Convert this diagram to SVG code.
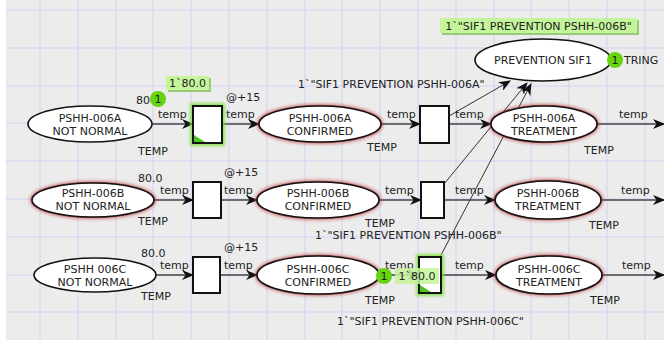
<svg xmlns="http://www.w3.org/2000/svg" width="664" height="340" viewBox="0 0 664 340">
  <defs>
    <style>
      text { font-family: "DejaVu Sans", Verdana, sans-serif; font-size: 11px; fill: #222; }
      .mid { text-anchor: middle; }
      .place { fill: #fff; stroke: #111; stroke-width: 1.6; }
      .halo { fill: none; stroke: #c03838; stroke-width: 5; opacity: 0.5; filter: url(#soft); }
      .halo2 { fill: none; stroke: #9a2828; stroke-width: 2.6; opacity: 0.45; }
      .trans { fill: #fff; stroke: #111; stroke-width: 2; }
      .thalo { fill: none; stroke: #7fe040; stroke-width: 6; opacity: 0.85; filter: url(#soft); }
      .corner { fill: #4cc51a; }
      .arc { fill: none; stroke: #444; stroke-width: 1.4; marker-end: url(#head); }
      .diag { fill: none; stroke: #333; stroke-width: 1; marker-end: url(#head); }
      .token { fill: #66d40e; }
      .tag { fill: #c4f59a; }
      .tagshadow { fill: #9cc87a; }
      .grid { stroke: #d2d2f6; stroke-width: 1; fill: none; }
    </style>
    <filter id="soft" x="-20%" y="-30%" width="140%" height="160%">
      <feGaussianBlur stdDeviation="1.4"/>
    </filter>
    <marker id="head" viewBox="0 0 12 10" refX="11" refY="5" markerWidth="12" markerHeight="10" markerUnits="userSpaceOnUse" orient="auto">
      <path d="M0,0 L12,5 L0,10 L3.5,5 Z" fill="#111"/>
    </marker>
  </defs>

  <!-- canvas and grid -->
  <rect x="0" y="0" width="664" height="340" fill="#fff"/>
  <rect x="6" y="0" width="658" height="340" fill="#ececec"/>
  <path class="grid" d="M40,0V340 M78,0V340 M116,0V340 M153,0V340 M191,0V340 M229,0V340 M267,0V340 M305,0V340 M342,0V340 M380,0V340 M418,0V340 M456,0V340 M494,0V340 M531,0V340 M569,0V340 M607,0V340 M645,0V340 M6,10H664 M6,48H664 M6,86H664 M6,123H664 M6,161H664 M6,199H664 M6,237H664 M6,275H664 M6,312H664"/>

  <!-- connectors -->
  <g id="arcs">
    <path class="arc" d="M152,124H193"/>
    <path class="arc" d="M222,124H259"/>
    <path class="arc" d="M381,124H420"/>
    <path class="arc" d="M449,124H491"/>
    <path class="arc" d="M597,124H664"/>
    <path class="arc" d="M154,200H193"/>
    <path class="arc" d="M221,200H257"/>
    <path class="arc" d="M379,200H421"/>
    <path class="arc" d="M444,200H495"/>
    <path class="arc" d="M602,200H664"/>
    <path class="arc" d="M156,275H193"/>
    <path class="arc" d="M220,275H257"/>
    <path class="arc" d="M379,275H419"/>
    <path class="arc" d="M441,275H496"/>
    <path class="arc" d="M602,275H664"/>
    <path class="diag" d="M449,116L510,81"/>
    <path class="diag" d="M444,184L527,83"/>
    <path class="diag" d="M440,257L531,84"/>
    <text x="158" y="118">temp</text>
    <text x="226" y="118">temp</text>
    <text x="226" y="101">@+15</text>
    <text x="387" y="118">temp</text>
    <text x="455" y="118">temp</text>
    <text x="619" y="118">temp</text>
    <text x="298" y="88">1`"SIF1 PREVENTION PSHH-006A"</text>
    <text x="160" y="194">temp</text>
    <text x="224" y="194">temp</text>
    <text x="224" y="176">@+15</text>
    <text x="385" y="194">temp</text>
    <text x="455" y="194">temp</text>
    <text x="621" y="194">temp</text>
    <text x="315" y="239">1`"SIF1 PREVENTION PSHH-006B"</text>
    <text x="160" y="269">temp</text>
    <text x="224" y="269">temp</text>
    <text x="224" y="251">@+15</text>
    <text x="385" y="269">temp</text>
    <text x="455" y="269">temp</text>
    <text x="622" y="269">temp</text>
    <text x="337" y="325">1`"SIF1 PREVENTION PSHH-006C"</text>
  </g>

  <!-- places -->
  <g id="p-006a-not-normal">
    <ellipse class="place" cx="90" cy="124" rx="62" ry="18"/>
    <text class="mid" x="90" y="122">PSHH-006A</text>
    <text class="mid" x="90" y="135">NOT NORMAL</text>
    <text x="138" y="155">TEMP</text>
    <text x="136" y="104">80</text>
    <circle class="token" cx="158" cy="99" r="8"/>
    <text class="mid" x="158" y="103">1</text>
    <rect class="tagshadow" x="168" y="78" width="43" height="14"/>
    <rect class="tag" x="166" y="76" width="43" height="14"/>
    <text class="mid" x="187.5" y="87">1`80.0</text>
  </g>
  <g id="p-006a-confirmed">
    <ellipse class="halo" cx="320" cy="124" rx="61" ry="18"/>
    <ellipse class="halo2" cx="320" cy="124" rx="61" ry="18"/>
    <ellipse class="place" cx="320" cy="124" rx="61" ry="18"/>
    <text class="mid" x="320" y="122">PSHH-006A</text>
    <text class="mid" x="320" y="135">CONFIRMED</text>
    <text x="367" y="151">TEMP</text>
  </g>
  <g id="p-006a-treatment">
    <ellipse class="halo" cx="544" cy="124" rx="53" ry="18"/>
    <ellipse class="halo2" cx="544" cy="124" rx="53" ry="18"/>
    <ellipse class="place" cx="544" cy="124" rx="53" ry="18"/>
    <text class="mid" x="544" y="122">PSHH-006A</text>
    <text class="mid" x="544" y="135">TREATMENT</text>
    <text x="584" y="154">TEMP</text>
  </g>
  <g id="p-prevention-sif1">
    <ellipse class="place" cx="543" cy="60" rx="68" ry="21"/>
    <text class="mid" x="543" y="64">PREVENTION SIF1</text>
    <text x="624" y="64">TRING</text>
    <circle class="token" cx="615" cy="60" r="8"/>
    <text class="mid" x="615" y="64">1</text>
    <rect class="tagshadow" x="442" y="20" width="197" height="15"/>
    <rect class="tag" x="440" y="18" width="197" height="15"/>
    <text class="mid" x="538.5" y="29.5">1`"SIF1 PREVENTION PSHH-006B"</text>
  </g>

  <g id="p-006b-not-normal">
    <ellipse class="halo" cx="93" cy="200" rx="61" ry="17"/>
    <ellipse class="halo2" cx="93" cy="200" rx="61" ry="17"/>
    <ellipse class="place" cx="93" cy="200" rx="61" ry="17"/>
    <text class="mid" x="93" y="197">PSHH-006B</text>
    <text class="mid" x="93" y="210">NOT NORMAL</text>
    <text x="138" y="225">TEMP</text>
    <text x="138" y="182">80.0</text>
  </g>
  <g id="p-006b-confirmed">
    <ellipse class="halo" cx="318" cy="200" rx="61" ry="18"/>
    <ellipse class="halo2" cx="318" cy="200" rx="61" ry="18"/>
    <ellipse class="place" cx="318" cy="200" rx="61" ry="18"/>
    <text class="mid" x="318" y="197">PSHH-006B</text>
    <text class="mid" x="318" y="210">CONFIRMED</text>
    <text x="365" y="227">TEMP</text>
  </g>
  <g id="p-006b-treatment">
    <ellipse class="halo" cx="548" cy="200" rx="53" ry="19"/>
    <ellipse class="halo2" cx="548" cy="200" rx="53" ry="19"/>
    <ellipse class="place" cx="548" cy="200" rx="53" ry="19"/>
    <text class="mid" x="548" y="197">PSHH-006B</text>
    <text class="mid" x="548" y="210">TREATMENT</text>
    <text x="589" y="229">TEMP</text>
  </g>

  <g id="p-006c-not-normal">
    <ellipse class="place" cx="95" cy="275" rx="61" ry="17"/>
    <text class="mid" x="95" y="273">PSHH 006C</text>
    <text class="mid" x="95" y="286">NOT NORMAL</text>
    <text x="141" y="300">TEMP</text>
    <text x="141" y="257">80.0</text>
  </g>
  <g id="p-006c-confirmed">
    <ellipse class="halo" cx="318" cy="275" rx="61" ry="19"/>
    <ellipse class="halo2" cx="318" cy="275" rx="61" ry="19"/>
    <ellipse class="place" cx="318" cy="275" rx="61" ry="19"/>
    <text class="mid" x="318" y="273">PSHH-006C</text>
    <text class="mid" x="318" y="286">CONFIRMED</text>
    <text x="365" y="304">TEMP</text>
  </g>
  <g id="p-006c-treatment">
    <ellipse class="halo" cx="549" cy="275" rx="53" ry="19"/>
    <ellipse class="halo2" cx="549" cy="275" rx="53" ry="19"/>
    <ellipse class="place" cx="549" cy="275" rx="53" ry="19"/>
    <text class="mid" x="549" y="273">PSHH-006C</text>
    <text class="mid" x="549" y="286">TREATMENT</text>
    <text x="590" y="304">TEMP</text>
  </g>

  <!-- transitions -->
  <g id="t-a1">
    <rect class="thalo" x="193" y="106" width="29" height="37"/>
    <rect class="trans" x="193" y="106" width="29" height="37"/>
    <path class="corner" d="M194,135V142H205Z"/>
  </g>
  <g id="t-a2">
    <rect class="trans" x="420" y="106" width="29" height="37"/>
  </g>
  <g id="t-b1">
    <rect class="trans" x="193" y="182" width="28" height="36"/>
  </g>
  <g id="t-b2">
    <rect class="trans" x="421" y="182" width="23" height="36"/>
  </g>
  <g id="t-c1">
    <rect class="trans" x="193" y="257" width="27" height="36"/>
  </g>
  <g id="t-c2">
    <rect class="thalo" x="419" y="257" width="22" height="36"/>
    <rect class="trans" x="419" y="257" width="22" height="36"/>
    <path class="corner" d="M420,285V292H431Z"/>
  </g>

  <!-- token marking on the C confirmed place, drawn over the transition -->
  <g id="c-marking">
    <circle class="token" cx="384" cy="276" r="8"/>
    <text class="mid" x="384" y="280">1</text>
    <rect class="tag" x="395" y="268" width="44" height="16" opacity="0.85"/>
    <text class="mid" x="417" y="280">1`80.0</text>
  </g>
</svg>
